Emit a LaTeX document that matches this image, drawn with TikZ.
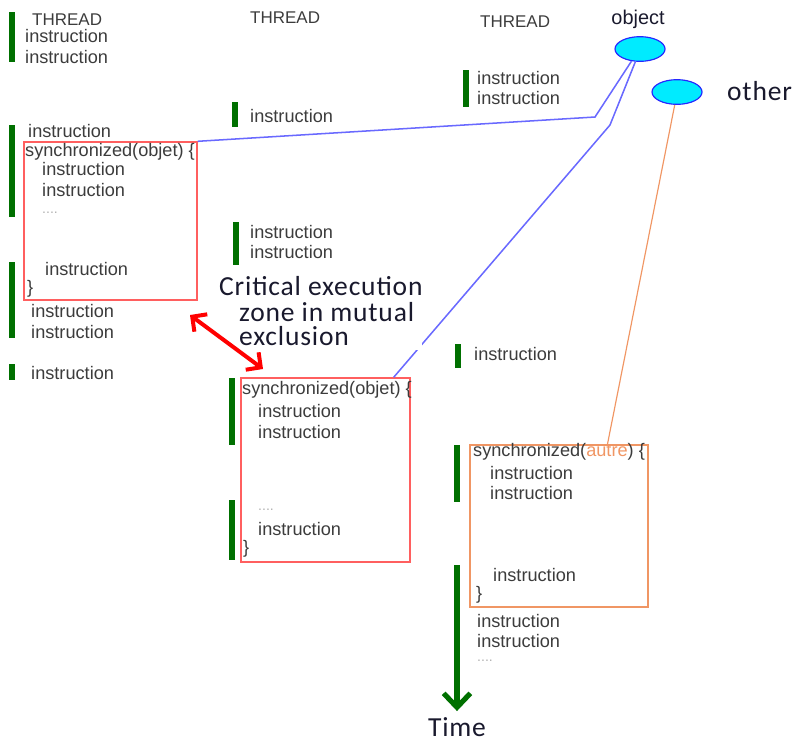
\documentclass[tikz,border=0pt]{standalone}
\usepackage{fontspec}
\setmainfont{Liberation Sans}
\newfontfamily\notefont[LetterSpace=3]{Carlito}
\usetikzlibrary{calc,shapes,arrows.meta}

\definecolor{codegray}{RGB}{60,60,60}
\definecolor{bargreen}{RGB}{0,112,0}
\definecolor{zonered}{RGB}{255,95,95}
\definecolor{autreorange}{RGB}{240,150,100}
\definecolor{lockblue}{RGB}{105,105,255}
\definecolor{lockfill}{RGB}{0,235,255}
\definecolor{notecolor}{RGB}{25,25,45}

\tikzset{
  instr/.style={anchor=west, inner sep=0pt, text=codegray, font=\fontsize{15.5}{17}\selectfont},
  head/.style={anchor=west, inner sep=0pt, text=codegray, font=\fontsize{14.5}{17}\selectfont},
  dots/.style={anchor=west, inner sep=0pt, text=gray!60, font=\fontsize{12}{14}\selectfont},
  bar/.style={draw=bargreen, line width=4.4pt},
  zone/.style={draw=zonered, line width=1.2pt, rectangle, inner sep=0pt},
  lock/.style={draw=blue!85, fill=lockfill, ellipse, line width=1pt, inner sep=0pt,
    minimum width=1.5cm, minimum height=0.74cm},
  lockline/.style={draw=lockblue, line width=1.3pt},
  note/.style={text=notecolor, font=\notefont\fontsize{23.5}{20}\selectfont}
}

\begin{document}
\begin{tikzpicture}[x=0.03cm, y=-0.03cm]
  \useasboundingbox (0,0) rectangle (794,742);

  % critical zones
  \node[zone, minimum width=5.19cm, minimum height=4.74cm] (crit1) at (110.5,221) {};
  \node[zone, minimum width=5.07cm, minimum height=5.52cm] (crit2) at (325.5,470) {};
  \node[zone, draw=autreorange, minimum width=5.34cm, minimum height=4.86cm] (crit3) at (559,526) {};

  % thread bars
  \draw[bar] (12,12) -- (12,62);
  \draw[bar] (12,125) -- (12,217);
  \draw[bar] (12,262) -- (12,338);
  \draw[bar] (12,364) -- (12,380);
  \draw[bar] (235,102) -- (235,127);
  \draw[bar] (236,222) -- (236,265);
  \draw[bar] (232,378) -- (232,445);
  \draw[bar] (232,500) -- (232,560);
  \draw[bar] (466,70) -- (466,107);
  \draw[bar] (458,344) -- (458,368);
  \draw[bar] (457,445) -- (457,502);

  % headers
  \node[head] (thread1) at (32,20) {THREAD};
  \node[head] (thread2) at (250,18) {THREAD};
  \node[head] (thread3) at (480,22) {THREAD};

  % code lines
  \foreach \x/\y [count=\i] in {25/36, 25/57, 28/131, 42/169, 42/190, 45/269, 31/311, 31/332, 31/373,
      250/116, 250/232, 250/252, 258/411, 258/432, 258/529,
      477/78, 477/98, 474/354, 490/473, 490/493, 493/575, 477/621, 477/641}
    \node[instr] (ins\i) at (\x,\y) {instruction};

  \node[instr] (sync1) at (25,152) {synchronized(objet) \{};
  \node[instr] (end1) at (27,289) {\}};
  \node[dots] (dots1) at (42,213) {....};
  \node[instr] (sync2) at (242,390) {synchronized(objet) \{};
  \node[instr] (end2) at (243,549) {\}};
  \node[dots] (dots2) at (258,510) {....};
  \node[instr] (sync3) at (473,452) {synchronized(\textcolor{autreorange}{autre}) \{};
  \node[instr] (end3) at (476,595) {\}};
  \node[dots] (dots3) at (477,661) {....};

  % shared objects
  \node[lock] (obj) at (640,49) {};
  \node[text=notecolor, font=\fontsize{17}{20}\selectfont] (objlabel) at (638,19) {object};
  \node[lock] (oth) at (677,92) {};
  \node[note, anchor=west, font=\notefont\fontsize{23.5}{28}\selectfont] (othlabel) at (723,91) {other};

  \coordinate (bendA) at (595,117);
  \coordinate (bendB) at (610,125);
  \draw[lockline] (obj.235) -- (bendA) -- (crit1.north east);
  \draw[lockline] (obj.250) -- (bendB) -- ($(crit2.north west)!0.9!(crit2.north east)$);
  \draw[draw=autreorange, line width=1pt] (oth.260) -- ($(crit3.north west)!0.77!(crit3.north east)$);

  % note on the critical zone
  \node[note, fill=white, anchor=north west, align=left, inner xsep=0pt, inner ysep=4pt] (critnote) at (219,271)
    {Critical execution\\[3pt]\hspace*{0.6cm}zone in mutual\\\hspace*{0.6cm}exclusion};

  \coordinate (tipA) at (190,315);
  \coordinate (tipB) at (263,369);
  \draw[draw=red, line width=3.4pt, {Straight Barb[length=3.2mm,width=6.5mm]}-{Straight Barb[length=3.2mm,width=6.5mm]}] (tipA) -- (tipB);

  % time
  \node[note, inner sep=1pt] (time) at (457,727) {Time};
  \coordinate (timestart) at (457,565);
  \draw[bar, -{Straight Barb[length=4.2mm,width=8mm]}] (timestart) -- ($(time.north)+(0,-5)$);
\end{tikzpicture}
\end{document}
